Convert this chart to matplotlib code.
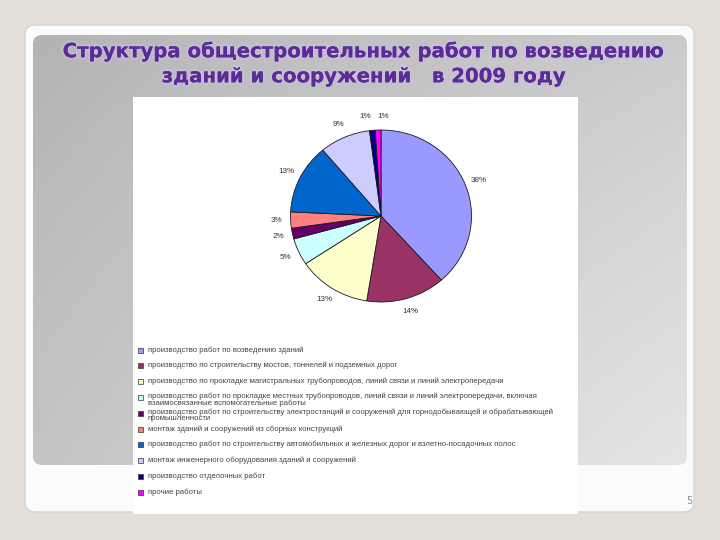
import numpy as np
import matplotlib
matplotlib.use("Agg")
import matplotlib.pyplot as plt
from matplotlib.patches import FancyBboxPatch, Rectangle
import matplotlib.patheffects as pe

# data
title = "Структура общестроительных работ по возведению\nзданий и сооружений   в 2009 году"
shares = [38, 14, 13, 5, 2, 3, 13, 9, 1, 1]
colors = ["#9999ff", "#993366", "#ffffcc", "#ccffff", "#660066",
          "#ff8080", "#0066cc", "#ccccff", "#000080", "#ff00ff"]
kinds = [
    "производство работ по возведению зданий",
    "производство по строительству мостов, тоннелей и подземных дорог",
    "производство по прокладке магистральных трубопроводов, линий связи и линий электропередачи",
    "производство работ по прокладке местных трубопроводов, линий связи и линий электропередачи, включая\n"
    "взаимосвязанные вспомогательные работы",
    "производство работ по строительству электростанций и сооружений для горнодобывающей и обрабатывающей\n"
    "промышленности",
    "монтаж зданий и сооружений из сборных конструкций",
    "производство работ по строительству автомобильных и железных дорог и взлетно-посадочных полос",
    "монтаж инженерного оборудования зданий и сооружений",
    "производство отделочных работ",
    "прочие работы",
]
page_no = "5"

fig = plt.figure(figsize=(7.2, 5.4), dpi=100)
fig.patch.set_facecolor("#e4dfd6")

# slide background in pixel coords
bg = fig.add_axes([0, 0, 1, 1])
bg.set_xlim(0, 720)
bg.set_ylim(540, 0)
bg.axis("off")

frame = FancyBboxPatch((25, 25), 669, 487, boxstyle="round,pad=0,rounding_size=10",
                       facecolor="#fbfbfb", edgecolor="#d4d4d4", linewidth=1)
bg.add_patch(frame)

panel = FancyBboxPatch((33, 35), 654, 430, boxstyle="round,pad=0,rounding_size=9",
                       facecolor="none", edgecolor="none")
bg.add_patch(panel)
gx, gy = np.meshgrid(np.linspace(0, 1, 200), np.linspace(0, 1, 150))
grad = 0.35 + 0.15 * gx + 0.1 * gy + 0.1 * gx * gy
img = bg.imshow(grad, extent=(33, 687, 465, 35), cmap="Greys_r", vmin=-0.6, vmax=1.0,
                aspect="auto", zorder=1)
img.set_clip_path(panel)

bg.add_patch(Rectangle((133, 97), 445, 417, facecolor="white", edgecolor="none", zorder=2))

bg.text(364, 64, title, ha="center", va="center", fontsize=14.2, fontweight="bold",
        color="#5a2d96", linespacing=1.4, zorder=3,
        path_effects=[pe.withStroke(linewidth=3, foreground="#cbbfe0", alpha=0.6), pe.Normal()])

bg.text(689, 501, page_no, ha="center", va="center", fontsize=7, color="#8c8c8c", zorder=3)

# pie
ax = fig.add_axes([(381 - 90.5) / 720, (540 - 216 - 86) / 540, 181 / 720, 172 / 540])
wedges, texts, pcts = ax.pie(shares, colors=colors, startangle=90, counterclock=False,
                             wedgeprops=dict(edgecolor="#1a1a1a", linewidth=0.6),
                             autopct="%d%%", pctdistance=1.16,
                             textprops=dict(fontsize=5.8, family="Liberation Sans",
                                            color="#333333"))
ax.set_aspect("auto")
ax.set_xlim(-1, 1)
ax.set_ylim(-1, 1)
# the two 1% labels sit side by side at the top
pcts[-2].set_horizontalalignment("right")
pcts[-1].set_horizontalalignment("left")

# legend, evenly spaced like the original
for i, (lab, c) in enumerate(zip(kinds, colors)):
    y = 350 + i * 15.8
    bg.add_patch(Rectangle((138, y - 2.5), 5, 5, facecolor=c, edgecolor="#333333",
                           linewidth=0.5, zorder=3))
    dy = 1.2 if "\n" in lab else 0
    bg.text(148, y - 3.8 - dy, lab, ha="left", va="top", fontsize=5.6, family="Liberation Sans",
            color="#444444", linespacing=0.95, zorder=3)

fig.savefig("out.png", dpi=100, facecolor=fig.get_facecolor())
